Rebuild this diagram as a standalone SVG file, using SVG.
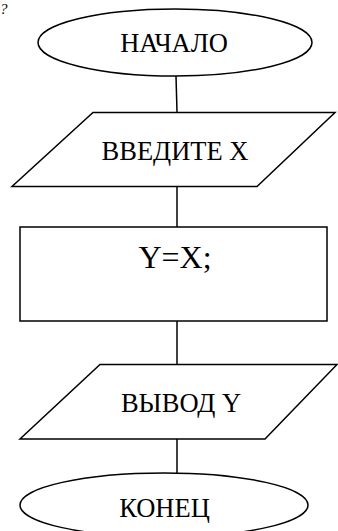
<svg xmlns="http://www.w3.org/2000/svg" width="338" height="531" viewBox="0 0 338 531">
<style>
.s{fill:#fff;stroke:#000;stroke-width:1.5}
.c{fill:none;stroke:#000;stroke-width:1.5}
.t{font-size:26.5px;fill:#000;text-anchor:middle}
</style>
<rect width="338" height="531" fill="#fff"/>
<g font-family="'Liberation Serif', 'Times New Roman', serif">
<text x="0" y="14" font-size="15" font-style="italic">?</text>
<g id="connectors">
<line class="c" x1="176" y1="76" x2="177" y2="112"/>
<line class="c" x1="177" y1="187" x2="177" y2="227"/>
<line class="c" x1="177" y1="321" x2="177" y2="364"/>
<line class="c" x1="177" y1="439" x2="177" y2="473"/>
</g>
<g id="start">
<ellipse class="s" cx="175" cy="42.5" rx="137" ry="33.5"/>
<text class="t" x="174" y="52">НАЧАЛО</text>
</g>
<g id="input">
<polygon class="s" points="93,112.5 335,112.5 257,186.5 12,186.5"/>
<text class="t" x="175" y="160">ВВЕДИТЕ Х</text>
</g>
<g id="process">
<rect class="s" x="20" y="227" width="307" height="94"/>
<text class="t" x="175" y="268" style="font-size:32px">Y=X;</text>
</g>
<g id="output">
<polygon class="s" points="100,364.5 337,364.5 265,439 20,439"/>
<text class="t" x="181" y="412">ВЫВОД Y</text>
</g>
<g id="end">
<ellipse class="s" cx="164" cy="505" rx="144" ry="32"/>
<text class="t" x="164.5" y="517">КОНЕЦ</text>
</g>
</g>
</svg>
